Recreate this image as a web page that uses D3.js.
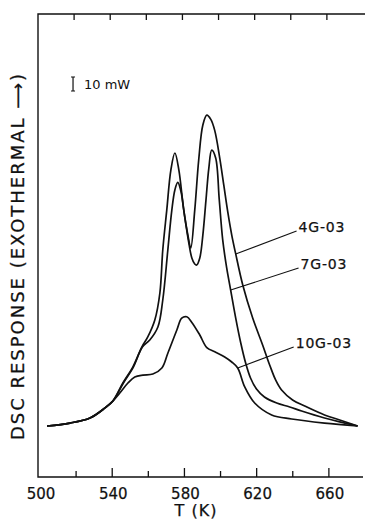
<!DOCTYPE html>
<html>
<head>
<meta charset="utf-8">
<script src="https://cdn.jsdelivr.net/npm/d3@7"></script>
<style>
  body { margin: 0; background: #fff; }
  text { font-family: "DejaVu Sans", sans-serif; fill: #111; stroke: #111; stroke-width: 0.25px; }
</style>
</head>
<body>
<svg id="chart" width="365" height="521"></svg>
<script>
// DSC traces, temperature (K) vs response (mW above baseline)
const common = [
  [503.9, 0], [516.6, 2.1], [527.7, 5.7], [536, 12.9], [540.4, 17.9]
];

const g4 = [
  [545.9, 30.7], [551.4, 42.1], [556.4, 56.4], [559.7, 63.6], [563.6, 75.7], [566.4, 95],
  [568, 125.7], [570.2, 154], [572.5, 183], [574.7, 195], [576.9, 183], [579.6, 154.3],
  [581.9, 136.4], [583.5, 127.1], [585.7, 154], [587.9, 190], [590.2, 215], [592.4, 222],
  [594.6, 219], [596.8, 211], [599.6, 191], [601.8, 172], [604, 152.9], [606.2, 136.4],
  [608.4, 122.9], [612.3, 100.7], [617.8, 77.1], [623.3, 57.9], [627.2, 43.6], [630.5, 32.9],
  [633.8, 25.7], [639.9, 18.6], [646.6, 14.3], [657.6, 7.9], [666, 4.3], [675.9, 0]
];

const g7 = [
  [546.2, 30.7], [551.7, 42.1], [556.7, 56.4], [560.8, 61.4], [565.3, 70.7], [568, 90],
  [570.8, 125.7], [573, 154], [574.7, 168.6], [576.3, 174], [578, 168], [580.2, 149],
  [582.4, 131], [584.1, 120], [585.7, 115.7], [586.8, 115], [588.5, 120], [590.2, 136.4],
  [591.9, 161], [593.5, 184], [595.1, 197], [597.3, 191.4], [599.3, 161.4], [601.2, 132.9],
  [603.4, 112.9], [605.6, 97.1], [608.4, 77.1], [611.2, 59.3], [613.9, 45], [616.6, 34.3],
  [619.9, 26.4], [624.3, 20.7], [631.1, 16.4], [638.3, 13.6], [644.9, 10.7], [657.6, 5.7],
  [666, 2.9], [675.9, 0]
];

const g10 = [
  [544.2, 23.6], [548.7, 30.7], [552.5, 35], [557, 36.4], [562.5, 37.1], [567.5, 41.4],
  [570.8, 52], [575.8, 68.6], [578.5, 77], [581.3, 78], [584.1, 74], [588.5, 65],
  [592.4, 56], [596.8, 53], [602.3, 49.3], [606.2, 45.7], [609.5, 41.4], [613.4, 27.9],
  [618.9, 16.4], [628.3, 7.9], [639.4, 5], [657.6, 2.1], [675.9, 0]
];

const seriesNames = ['4G-03', '7G-03', '10G-03'];
const seriesData = [g4, g7, g10];
// where each leader touches its curve (K) and where its label sits (K, mW)
const leaderT = [608.4, 605.6, 609.5];
const labelT = [642.1, 643.2, 640.5];
const labelP = [139.3, 112.9, 56.4];

const xTicks = [500, 520, 540, 560, 580, 600, 620, 640, 660];
const xTickLabels = [500, 540, 580, 620, 660];
const scaleBarT = 518.3;
const scaleBarTop = 249.3;
const scaleBarMW = 10;

const svg = d3.select('#chart');
const margin = { left: 38, right: 0, top: 14, bottom: 44 };
const W = 365, H = 521;

const x = d3.scaleLinear().domain([498.9, 680]).range([margin.left, W - margin.right]);
const y = d3.scaleLinear().domain([-36.43, 294.29]).range([H - margin.bottom, margin.top]);

const ink = '#111';

// frame: left, top, bottom
svg.append('path')
  .attr('d', `M${W},${margin.top}H${margin.left}V${H - margin.bottom}H${W - 2}`)
  .attr('fill', 'none')
  .attr('stroke', ink)
  .attr('stroke-width', 1.4);

// bottom ticks (inward)
svg.append('g')
  .selectAll('line')
  .data(xTicks.slice(1))
  .enter()
  .append('line')
  .attr('x1', d => x(d))
  .attr('x2', d => x(d))
  .attr('y1', H - margin.bottom)
  .attr('y2', d => H - margin.bottom - (d % 40 === 20 ? 9 : 6))
  .attr('stroke', ink)
  .attr('stroke-width', 1.3);

// top ticks (inward)
svg.append('g')
  .selectAll('line')
  .data(xTicks.slice(1))
  .enter()
  .append('line')
  .attr('x1', d => x(d) - 2)
  .attr('x2', d => x(d) - 2)
  .attr('y1', margin.top)
  .attr('y2', margin.top + 6)
  .attr('stroke', ink)
  .attr('stroke-width', 1.3);

svg.append('g')
  .selectAll('text')
  .data(xTickLabels)
  .enter()
  .append('text')
  .attr('x', d => x(d) + 1)
  .attr('y', 499)
  .attr('text-anchor', 'middle')
  .style('font-size', '15px')
  .text(d => d);

svg.append('text')
  .attr('x', 196)
  .attr('y', 516)
  .attr('text-anchor', 'middle')
  .style('font-size', '16px')
  .style('letter-spacing', '1px')
  .text('T (K)');

svg.append('text')
  .attr('transform', 'translate(24,257) rotate(-90)')
  .attr('text-anchor', 'middle')
  .attr('textLength', 366)
  .attr('lengthAdjust', 'spacing')
  .style('font-size', '18px')
  .text('DSC RESPONSE (EXOTHERMAL \u27F6)');

// scale bar
const sbx = x(scaleBarT);
const sbTop = y(scaleBarTop);
const sbBot = y(scaleBarTop - scaleBarMW);
svg.append('path')
  .attr('d', `M${sbx - 2},${sbTop}H${sbx + 2}M${sbx},${sbTop}V${sbBot}M${sbx - 2},${sbBot}H${sbx + 2}`)
  .attr('fill', 'none')
  .attr('stroke', ink)
  .attr('stroke-width', 1.2);
svg.append('text')
  .attr('x', sbx + 11)
  .attr('y', sbBot - 2)
  .style('font-size', '13px')
  .style('stroke-width', '0px')
  .text('10 mW');

// curves
const line = d3.line()
  .x(d => x(d[0]))
  .y(d => y(d[1]))
  .curve(d3.curveCatmullRom.alpha(0.5));

seriesData.forEach(s => {
  svg.append('path')
    .datum(common.concat(s))
    .attr('d', line)
    .attr('fill', 'none')
    .attr('stroke', ink)
    .attr('stroke-width', 1.7);
});

// value of a trace at temperature t (linear between read points)
function valueAt (s, t) {
  const i = d3.bisector(d => d[0]).left(s, t);
  const a = s[i - 1], b = s[i];
  return a[1] + (b[1] - a[1]) * (t - a[0]) / (b[0] - a[0]);
}

seriesNames.forEach((name, i) => {
  const x0 = x(leaderT[i]);
  const y0 = y(valueAt(seriesData[i], leaderT[i]));
  const x1 = x(labelT[i]);
  const y1 = y(labelP[i]);
  svg.append('line')
    .attr('x1', x0).attr('y1', y0)
    .attr('x2', x1).attr('y2', y1)
    .attr('stroke', ink)
    .attr('stroke-width', 1.1);
  svg.append('text')
    .attr('x', x1 + 2)
    .attr('y', y1 + 1)
    .style('font-size', '14px')
    .style('letter-spacing', '0.8px')
    .text(name);
});
</script>
</body>
</html>
